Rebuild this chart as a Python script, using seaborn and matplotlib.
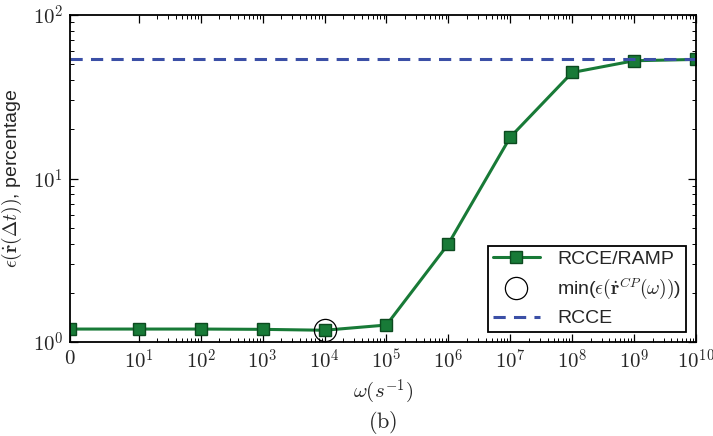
import numpy as np
import pandas as pd
import matplotlib
matplotlib.use("Agg")
import matplotlib.pyplot as plt
import seaborn as sns
from matplotlib.ticker import FixedLocator, FixedFormatter, SymmetricalLogLocator

omega = [0, 1e1, 1e2, 1e3, 1e4, 1e5, 1e6, 1e7, 1e8, 1e9, 1e10]
err_ramp = [1.20, 1.20, 1.20, 1.195, 1.18, 1.27, 3.98, 17.9, 44.5, 52.5, 53.5]
min_omega = [1e4]
min_err = [1.18]
rcce_err = 54.0
xtick_labels = ["$0$"] + [f"$10^{{{k}}}$" for k in range(1, 11)]
ytick_labels = ["$10^{0}$", "$10^{1}$", "$10^{2}$"]

sns.set_style("ticks")
plt.rcParams["font.family"] = ["Liberation Sans", "DejaVu Sans"]
plt.rcParams["mathtext.fontset"] = "cm"

fig = plt.figure(figsize=(7.13, 4.36), dpi=100)
ax = fig.add_axes([70/713, 1-342/436, (696-70)/713, (342-15)/436])

df = pd.DataFrame({"omega": omega, "err": err_ramp})
sns.lineplot(data=df, x="omega", y="err", ax=ax, color="#187a37", lw=2.2,
             marker="s", markersize=9, markeredgecolor="#0c4a1f",
             markeredgewidth=1.0, markerfacecolor="#187a37", label="RCCE/RAMP")
ax.plot(min_omega, min_err, linestyle="none", marker="o", markersize=16,
        markerfacecolor="none", markeredgecolor="black", markeredgewidth=0.9,
        label=r"min($\epsilon(\dot{\mathbf{r}}^{CP}(\omega))$)")
ax.axhline(rcce_err, color="#3b4fa6", lw=2.2, ls=(0, (4, 2.7)), label="RCCE")

ax.set_xscale("symlog", linthresh=10, linscale=1)
ax.set_yscale("log")
ax.set_xlim(0, 1e10)
ax.set_ylim(1, 100)

ax.xaxis.set_major_locator(FixedLocator(omega))
ax.xaxis.set_major_formatter(FixedFormatter(xtick_labels))
ax.xaxis.set_minor_locator(SymmetricalLogLocator(base=10, linthresh=10, subs=np.arange(2, 10)))
ax.yaxis.set_major_locator(FixedLocator([1, 10, 100]))
ax.yaxis.set_major_formatter(FixedFormatter(ytick_labels))

ax.tick_params(which="both", direction="in", top=True, right=True, color="black")
ax.tick_params(which="major", length=6, width=0.9, labelsize=15, pad=5)
ax.tick_params(which="minor", length=3, width=0.7)
for s in ax.spines.values():
    s.set_linewidth(1.3)
    s.set_color("black")

ax.set_xlabel(r"$\omega(s^{-1})$", fontsize=15, labelpad=3)
ax.set_ylabel(r"$\epsilon(\dot{\mathbf{r}}(\Delta t))$, percentage", fontsize=14, labelpad=6)

leg = ax.legend(loc="lower right", fontsize=14, frameon=True, fancybox=False,
                borderaxespad=0.5, handlelength=2.4, numpoints=1,
                borderpad=0.25, labelspacing=0.4, handletextpad=0.9)
leg.get_frame().set_edgecolor("black")
leg.get_frame().set_linewidth(1.3)
leg.get_frame().set_alpha(1)

fig.text(383/713, 1-422/436, r"$\mathrm{(b)}$", fontsize=16, ha="center", va="center")

fig.savefig("out.png", dpi=100)
